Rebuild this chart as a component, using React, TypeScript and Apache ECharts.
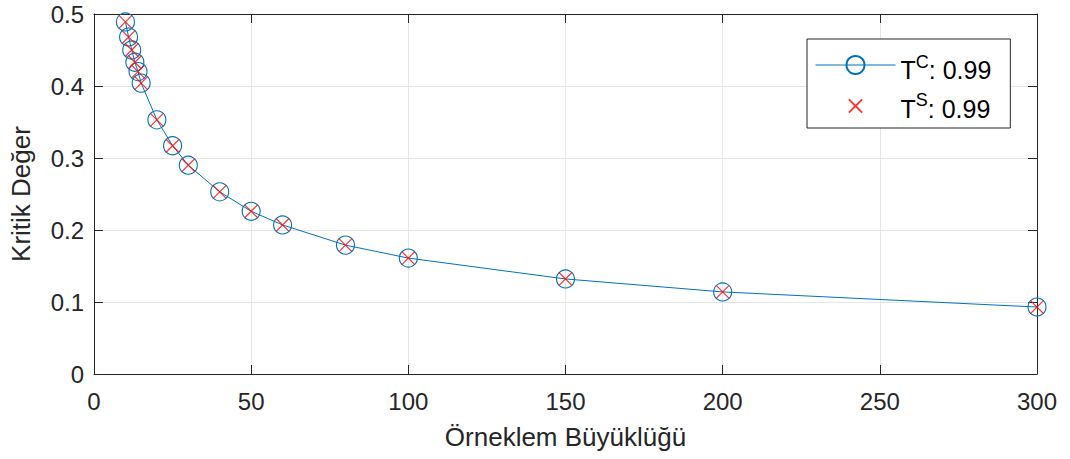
import React, { useEffect, useRef } from "react";
import * as echarts from "echarts";

const sampleSizes = [10, 11, 12, 13, 14, 15, 20, 25, 30, 40, 50, 60, 80, 100, 150, 200, 300];
const criticalC = [0.489, 0.468, 0.45, 0.433, 0.42, 0.404, 0.353, 0.317, 0.29, 0.253, 0.226, 0.207, 0.179, 0.161, 0.132, 0.114, 0.093];
const criticalS = [0.489, 0.468, 0.45, 0.433, 0.42, 0.404, 0.353, 0.317, 0.29, 0.253, 0.226, 0.207, 0.179, 0.161, 0.132, 0.114, 0.093];
const seriesNames = ["TC", "TS"];
const legendSup = ["C", "S"];
const legendValue = "0.99";

const FONT = "'Liberation Sans', Arial, Helvetica, sans-serif";
const AX = "#262626";
const BLUE = "#0072BD";
const RED = "#FF0000";
// X marker with invisible padding so that it draws smaller than its box
const CROSS = "path://M-3.5,-3.5L-3.5,-3.5M0,0L10,10M10,0L0,10M13.5,13.5L13.5,13.5";

export default function App() {
  const ref = useRef<HTMLDivElement>(null);
  useEffect(() => {
    if (!ref.current) return;
    const chart = echarts.init(ref.current, undefined, { renderer: "svg" });
    const frameAxis = {
      min: 0,
      axisLine: { show: true, onZero: false, lineStyle: { color: AX, width: 1 } },
      axisTick: { show: true, inside: true, length: 9, lineStyle: { color: AX } },
      axisLabel: { show: false },
      splitLine: { show: false },
    };
    chart.setOption({
      animation: false,
      backgroundColor: "#ffffff",
      textStyle: { fontFamily: FONT },
      grid: { left: 92, right: 33, top: 14, bottom: 85 },
      legend: {
        orient: "vertical",
        left: 807,
        top: 39,
        backgroundColor: "#ffffff",
        borderColor: AX,
        borderWidth: 1,
        borderRadius: 0,
        padding: [13.5, 19, 7, 8],
        itemWidth: 80,
        itemHeight: 22.5,
        itemGap: 8.5,
        lineStyle: { width: 1 },
        data: [
          { name: seriesNames[0], textStyle: { padding: [5, 0, 0, 0] } },
          { name: seriesNames[1], textStyle: { padding: [0, 0, 0, 0] } },
        ],
        formatter: (name: string) => {
          const i = seriesNames.indexOf(name);
          return `{a|T}{s|${legendSup[i]}}{a|: ${legendValue}}`;
        },
        textStyle: {
          rich: {
            a: { fontSize: 25, color: "#000", fontFamily: FONT, lineHeight: 30, verticalAlign: "bottom" },
            s: { fontSize: 18, color: "#000", fontFamily: FONT, lineHeight: 14, verticalAlign: "top" },
          },
        },
      },
      xAxis: [
        {
          type: "value",
          min: 0,
          max: 300,
          interval: 50,
          name: "Örneklem Büyüklüğü",
          nameLocation: "middle",
          nameGap: 50,
          nameTextStyle: { fontSize: 26, color: AX, fontFamily: FONT },
          axisLine: { show: true, onZero: false, lineStyle: { color: AX, width: 1 } },
          axisTick: { show: true, inside: true, length: 9, lineStyle: { color: AX } },
          axisLabel: { fontSize: 24, color: AX, margin: 15, fontFamily: FONT },
          splitLine: { show: true, lineStyle: { color: "#e6e6e6", width: 1 } },
        },
        { type: "value", position: "top", max: 300, interval: 50, ...frameAxis },
      ],
      yAxis: [
        {
          type: "value",
          min: 0,
          max: 0.5,
          interval: 0.1,
          name: "Kritik Değer",
          nameLocation: "middle",
          nameGap: 60,
          nameTextStyle: { fontSize: 26, color: AX, fontFamily: FONT },
          axisLine: { show: true, onZero: false, lineStyle: { color: AX, width: 1 } },
          axisTick: { show: true, inside: true, length: 9, lineStyle: { color: AX } },
          axisLabel: { fontSize: 24, color: AX, margin: 10, fontFamily: FONT, formatter: (v: number) => (v === 0 ? "0" : v.toFixed(1)) },
          splitLine: { show: true, lineStyle: { color: "#e6e6e6", width: 1 } },
        },
        { type: "value", position: "right", max: 0.5, interval: 0.1, ...frameAxis },
      ],
      series: [
        {
          name: "TC",
          type: "line",
          data: sampleSizes.map((n, i) => [n, criticalC[i]]),
          symbol: "circle",
          symbolSize: 18,
          showAllSymbol: true,
          lineStyle: { color: BLUE, width: 1 },
          itemStyle: { color: "none", borderColor: BLUE, borderWidth: 1.1 },
          z: 2,
        },
        {
          name: "TS",
          type: "scatter",
          data: sampleSizes.map((n, i) => [n, criticalS[i]]),
          symbol: CROSS,
          symbolSize: 22,
          itemStyle: { color: "none", borderColor: RED, borderWidth: 1.2 },
          z: 3,
        },
      ],
    });
    return () => chart.dispose();
  }, []);
  return <div ref={ref} style={{ position: "fixed", left: 0, top: 0, width: 1070, height: 459 }} />;
}
